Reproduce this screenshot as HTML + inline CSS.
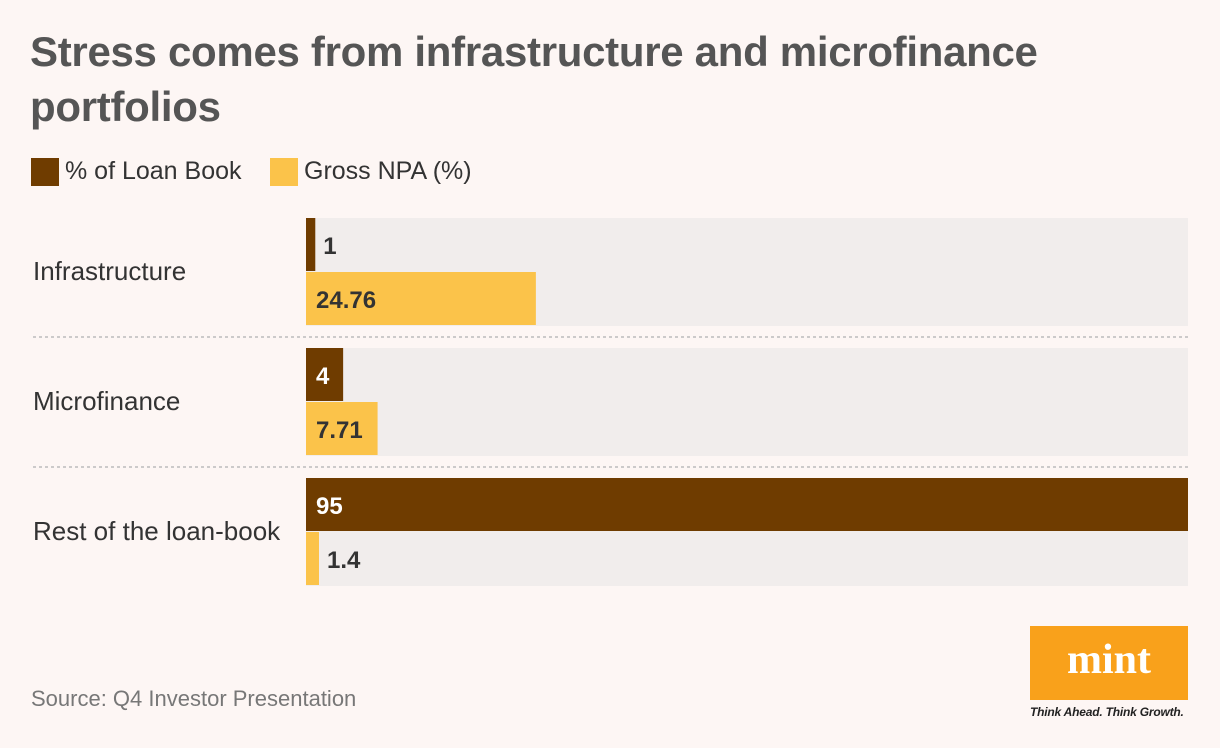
<!DOCTYPE html>
<html><head><meta charset="utf-8"><style>
body{margin:0;background:#fdf6f4;font-family:"Liberation Sans",sans-serif;}
#wrap{position:relative;width:1220px;height:748px;overflow:hidden;background:#fdf6f4;}
.t{position:absolute;}
</style></head><body>
<div id="wrap">
<div class="t" style="left:30px;top:24px;font-size:42px;font-weight:bold;color:#555;line-height:55px;width:1100px;letter-spacing:-0.3px">Stress comes from infrastructure and microfinance portfolios</div>
<div class="t" style="left:31px;top:157px;font-size:25px;color:#333;display:flex;align-items:center"><span style="width:28px;height:28px;background:#6f3c00;display:inline-block;margin-right:6px"></span>% of Loan Book</div>
<div class="t" style="left:270px;top:157px;font-size:25px;color:#333;display:flex;align-items:center"><span style="width:28px;height:28px;background:#fbc34a;display:inline-block;margin-right:6px"></span>Gross NPA (%)</div>
<svg id="chart" class="t" style="left:0;top:0" width="1220" height="748"></svg>
<div class="t" style="left:31px;top:686px;font-size:22px;color:#777">Source: Q4 Investor Presentation</div>
<div class="t" style="left:1030px;top:626px;width:158px;height:74px;background:#f9a11b;color:#fff;font-family:'Liberation Serif',serif;font-weight:bold;font-size:42px;text-align:center;line-height:68px">mint</div>
<div class="t" style="left:1030px;top:705px;font-size:12px;font-style:italic;font-weight:bold;color:#222;letter-spacing:-0.2px">Think Ahead. Think Growth.</div>
</div>
<script>
const categories=["Infrastructure","Microfinance","Rest of the loan-book"];
const loanBook=[1,4,95];
const grossNpa=[24.76,7.71,1.4];
const loanLabels=["1","4","95"];
const npaLabels=["24.76","7.71","1.4"];
const NS="http://www.w3.org/2000/svg";
const svg=document.getElementById('chart');
const x0=306,x1=1188,maxV=95;
const xs=v=>(v/maxV)*(x1-x0);
const rowTop=i=>218+i*130;
function el(tag,attrs){const e=document.createElementNS(NS,tag);for(const k in attrs)e.setAttribute(k,attrs[k]);svg.appendChild(e);return e;}
categories.forEach((c,i)=>{
  const y=rowTop(i);
  const bg=el('rect',{x:x0,y:y,width:x1-x0,height:108,fill:'#f1edec'});
  
  
  const lab=el('text',{x:33,y:y+62,'font-size':26,fill:'#333'});
  lab.textContent=c;
  
  
  if(i<categories.length-1){
    const ln=el('line',{x1:33,x2:x1,y1:y+119,y2:y+119,stroke:'#bbb','stroke-width':1.5,'stroke-dasharray':'3,3'});
    
    
  }
  [[loanBook,loanLabels,'#6f3c00','#fff',0,'bar-loan-book'],[grossNpa,npaLabels,'#fbc34a','#333',54,'bar-gross-npa']].forEach(([vals,lbls,col,tc,off,nm])=>{
    const w=xs(vals[i]);
    const b=el('rect',{x:x0,y:y+off,width:w,height:53,fill:col});
    
    
    const inside=w>70||(w>30&&lbls[i].length<=1);
    const t=el('text',{x:inside?x0+10:x0+w+8,y:y+off+36,'font-size':24,'font-weight':'bold',fill:inside?tc:'#333'});
    t.textContent=lbls[i];
    
    
  });
});
</script>
</body></html>
